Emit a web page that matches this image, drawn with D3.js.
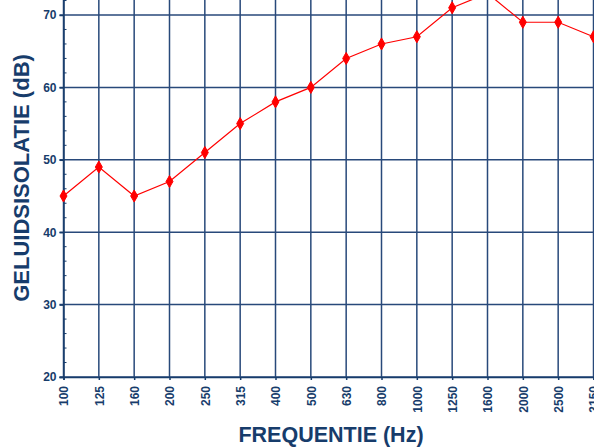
<!DOCTYPE html>
<html><head><meta charset="utf-8">
<script src="https://cdn.jsdelivr.net/npm/d3@7"></script>
<style>html,body{margin:0;padding:0;background:#fff;overflow:hidden}</style>
</head><body>
<script>
const categories = ["100","125","160","200","250","315","400","500","630","800","1000","1250","1600","2000","2500","3150"];
const values = [45,49,45,47,51,55,58,60,64,66,67,71,73,69,69,67];
const yTicks = [20,30,40,50,60,70];
const xTitle = "FREQUENTIE (Hz)";
const yTitle = "GELUIDSISOLATIE (dB)";

const W = 594, H = 447;
const navy = "#173c6b", grid = "#28497a";
const svg = d3.select("body").append("svg").attr("width", W).attr("height", H)
  .style("font-family", "Liberation Sans, Arial, sans-serif");

const x = d3.scalePoint().domain(categories).range([63.5, 593.5]);
const y = d3.scaleLinear().domain([20, 80]).range([377, 377 - 60 * 7.24]);

// vertical gridlines
svg.append("g").selectAll("line").data(categories).join("line")
  .attr("x1", d => x(d)).attr("x2", d => x(d))
  .attr("y1", y(20)).attr("y2", y(80))
  .attr("stroke", grid).attr("stroke-width", 1.5);
// horizontal gridlines
svg.append("g").selectAll("line").data(yTicks).join("line")
  .attr("x1", 59.5).attr("x2", W + 20)
  .attr("y1", d => y(d)).attr("y2", d => y(d))
  .attr("stroke", grid).attr("stroke-width", 1.5);

// y axis
const yAxis = svg.append("g").attr("transform", "translate(63.5,0)")
  .call(d3.axisLeft(y).tickValues(yTicks).tickSize(4).tickPadding(3));
yAxis.select(".domain").attr("stroke", navy).attr("stroke-width", 1.5);
yAxis.selectAll(".tick line").attr("stroke", navy).attr("stroke-width", 1.5);
yAxis.selectAll(".tick text").attr("fill", navy).style("font-size", "12px").style("font-weight", "bold");
// minor ticks inward
const minor = d3.range(20, 80, 2).filter(v => v % 10 !== 0);
svg.append("g").selectAll("line").data(minor).join("line")
  .attr("x1", 63.5).attr("x2", 66.5).attr("y1", d => y(d)).attr("y2", d => y(d))
  .attr("stroke", navy).attr("stroke-width", 1);

// x axis
const xAxis = svg.append("g").attr("transform", `translate(0,${y(20)})`)
  .call(d3.axisBottom(x).tickSize(3).tickPadding(6));
xAxis.select(".domain").attr("stroke", navy).attr("stroke-width", 1.5);
xAxis.selectAll(".tick line").attr("stroke", navy).attr("stroke-width", 1.5);
xAxis.selectAll(".tick text").attr("fill", navy).style("font-size", "12px").style("font-weight", "bold")
  .attr("transform", "rotate(-90)").attr("text-anchor", "end")
  .attr("x", -9).attr("y", 0).attr("dy", "0.35em");

// line
svg.append("path").datum(values)
  .attr("d", d3.line().x((d, i) => x(categories[i])).y(d => y(d)))
  .attr("fill", "none").attr("stroke", "#ff0000").attr("stroke-width", 1.2);
svg.append("g").selectAll("path").data(values).join("path")
  .attr("transform", (d, i) => `translate(${x(categories[i])},${y(d)})`)
  .attr("d", d3.symbol().type(d3.symbolDiamond).size(42))
  .attr("fill", "#ff0000").attr("stroke", "#ff0000").attr("stroke-width", 1).attr("stroke-linejoin", "round");

// titles
svg.append("text").attr("x", 331).attr("y", 442).attr("text-anchor", "middle")
  .attr("fill", navy).style("font-size", "21.5px").style("font-weight", "bold").text(xTitle);
svg.append("text").attr("transform", "translate(29,178) rotate(-90)").attr("text-anchor", "middle")
  .attr("fill", navy).style("font-size", "22px").style("font-weight", "bold").text(yTitle);
</script>
</body></html>
